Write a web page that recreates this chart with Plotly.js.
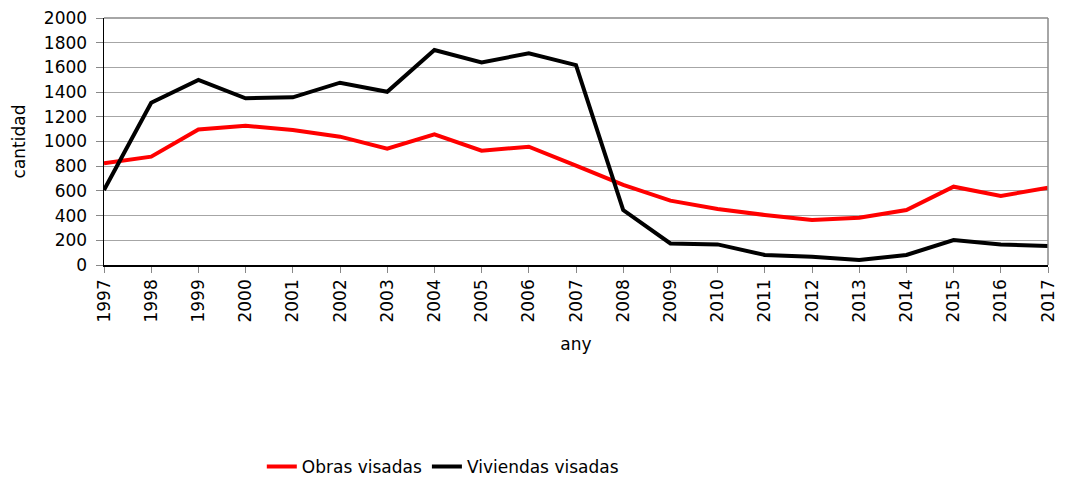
<!DOCTYPE html>
<html>
<head>
<meta charset="utf-8">
<script src="https://cdn.plot.ly/plotly-3.0.1.min.js"></script>
<style>html,body{margin:0;padding:0;background:#fff;}#chart{width:1067px;height:479px;}</style>
</head>
<body>
<div id="chart"></div>
<script>
const years = ["1997","1998","1999","2000","2001","2002","2003","2004","2005","2006","2007","2008","2009","2010","2011","2012","2013","2014","2015","2016","2017"];
const obrasVisadas = [823,877,1098,1128,1093,1039,942,1058,926,958,804,648,521,453,405,364,383,445,634,559,626];
const viviendasVisadas = [607,1314,1498,1350,1358,1476,1403,1741,1641,1714,1619,445,175,167,81,67,40,81,202,167,154];
const yTicks = [0,200,400,600,800,1000,1200,1400,1600,1800,2000];

const fontFam = "'DejaVu Sans', sans-serif";
const traces = [
  {x: years, y: obrasVisadas, name: "Obras visadas", type: "scatter", mode: "lines",
   line: {color: "#ff0000", width: 4}},
  {x: years, y: viviendasVisadas, name: "Viviendas visadas", type: "scatter", mode: "lines",
   line: {color: "#000000", width: 4}}
];
const layout = {
  width: 1067, height: 479,
  margin: {l: 104, r: 19, t: 18, b: 214},
  paper_bgcolor: "#ffffff", plot_bgcolor: "#ffffff",
  font: {family: fontFam, size: 17, color: "#000"},
  showlegend: true,
  legend: {orientation: "h", x: 0.415, xanchor: "center", xref: "container",
           y: 0.025, yanchor: "middle", yref: "container",
           font: {family: fontFam, size: 17, color: "#000"}, tracegroupgap: 0},
  xaxis: {
    type: "category", categoryorder: "array", categoryarray: years, automargin: false,
    range: [0, 20], tickangle: -90, ticks: "outside", ticklen: 6, tickcolor: "#888",
    showline: true, linecolor: "#000", linewidth: 1.5, mirror: false,
    showgrid: false, zeroline: false, tickfont: {size: 17},
    title: {text: "any", font: {size: 17}, standoff: 16}
  },
  yaxis: {
    range: [0, 2000], tickvals: yTicks, ticktext: yTicks.map(String), automargin: false,
    ticks: "outside", ticklen: 7, tickcolor: "#888", ticklabelstandoff: 5,
    showline: true, linecolor: "#000", linewidth: 1.5,
    showgrid: true, gridcolor: "#a6a6a6", gridwidth: 1, zeroline: false,
    tickfont: {size: 17},
    title: {text: "cantidad", font: {size: 17}, standoff: 14}
  },
  shapes: [
    {type: "line", xref: "paper", yref: "paper", x0: 0, x1: 1, y0: 1, y1: 1, line: {color: "#888", width: 1.5}},
    {type: "line", xref: "paper", yref: "paper", x0: 1, x1: 1, y0: 0, y1: 1, line: {color: "#888", width: 1.5}}
  ]
};
Plotly.newPlot("chart", traces, layout, {displayModeBar: false, staticPlot: true});
</script>
</body>
</html>
